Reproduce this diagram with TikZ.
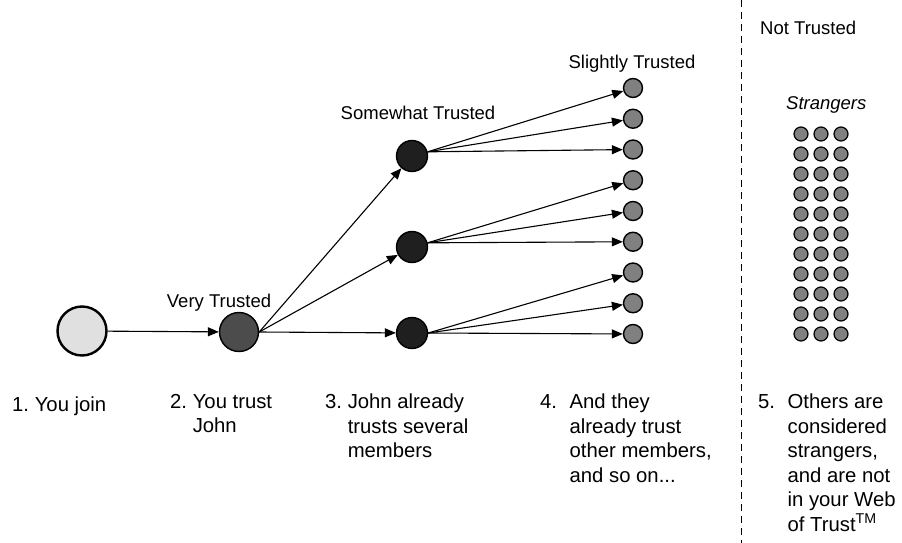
\documentclass[tikz,border=0pt]{standalone}
\usepackage{fontspec}
\setmainfont{Liberation Sans}
\usetikzlibrary{arrows.meta}

\newcommand{\numgap}[1]{\makebox[1.45em][l]{#1}}

\begin{document}
\begin{tikzpicture}[
    x=1pt, y=-1pt,
    member/.style={circle, draw, line width=1.4pt, inner sep=0pt},
    you/.style={member, fill=black!12, minimum size=49pt, line width=2.4pt},
    john/.style={member, fill=black!70, minimum size=39pt},
    friend/.style={member, fill=black!88, minimum size=31pt},
    other/.style={member, fill=black!50, minimum size=19pt},
    stranger/.style={member, fill=black!50, minimum size=14pt, line width=1.2pt},
    tag/.style={anchor=base, inner sep=0pt, font=\fontsize{18.5}{21}\selectfont},
    stepnote/.style={anchor=north west, align=left, inner sep=0pt, font=\fontsize{20.3}{24.5}\selectfont\frenchspacing},
    arrow/.style={-{Triangle[length=11pt, width=9pt]}, line width=1.1pt},
    divider/.style={dash pattern=on 7pt off 5pt, line width=1pt}
  ]
    \useasboundingbox (0,0) rectangle (902,543);

    % Members of the web
    \node[you] (you) at (82,331) {};
    \node[john] (john) at (239,332) {};
    \node[friend] (f1) at (412,156) {};
    \node[friend] (f2) at (412,247) {};
    \node[friend] (f3) at (412,333) {};
    \foreach \i in {1,...,9}
      \node[other] (o\i) at (633,{88+30.75*(\i-1)}) {};

    % Strangers outside the web
    \foreach \r in {0,...,10}
      \foreach \c in {0,1,2}
        \node[stranger] (s\r-\c) at ({801+20*\c},{134+20*\r}) {};

    % Trust levels
    \node[tag] (verytrusted) at (219,307) {Very Trusted};
    \node[tag] (somewhattrusted) at (418,119) {Somewhat Trusted};
    \node[tag] (slightlytrusted) at (632,68) {Slightly Trusted};
    \node[tag, anchor=base west] (nottrusted) at (760,35) {Not Trusted};
    \node[tag, anchor=base west, font=\fontsize{18.5}{21}\selectfont\itshape] (strangers) at (786,109) {Strangers};

    % Steps
    \node[stepnote] (join) at (12,397) {1. You join};
    \node[stepnote] (trustjohn) at (170,394) {2. You trust\\\phantom{2. }John};
    \node[stepnote] (johntrusts) at (325,394) {3. John already\\\phantom{3. }trusts several\\\phantom{3. }members};
    \node[stepnote] (theytrust) at (540,394) {\numgap{4.}And they\\\numgap{}already trust\\\numgap{}other members,\\\numgap{}and so on...};
    \node[stepnote] (others) at (758,394) {\numgap{5.}Others are\\\numgap{}considered\\\numgap{}strangers,\\\numgap{}and are not\\\numgap{}in your Web\\\numgap{}of Trust\textsuperscript{TM}};

    % Divider
    \coordinate (divtop) at (741,0);
    \coordinate (divbottom) at (741,543);
    \draw[divider] (divtop) -- (divbottom);

    % Arrows
    \draw[arrow] (you) -- (john);
    \foreach \f in {1,2,3}
      \draw[arrow] (john.east) -- (f\f);
    \foreach \f/\side in {1/15, 2/15, 3/0}
      \foreach \k in {0,1,2} {
        \pgfmathtruncatemacro{\o}{3*\f-2+\k}
        \draw[arrow] (f\f.\side) -- (o\o);
      }

  \end{tikzpicture}
\end{document}
